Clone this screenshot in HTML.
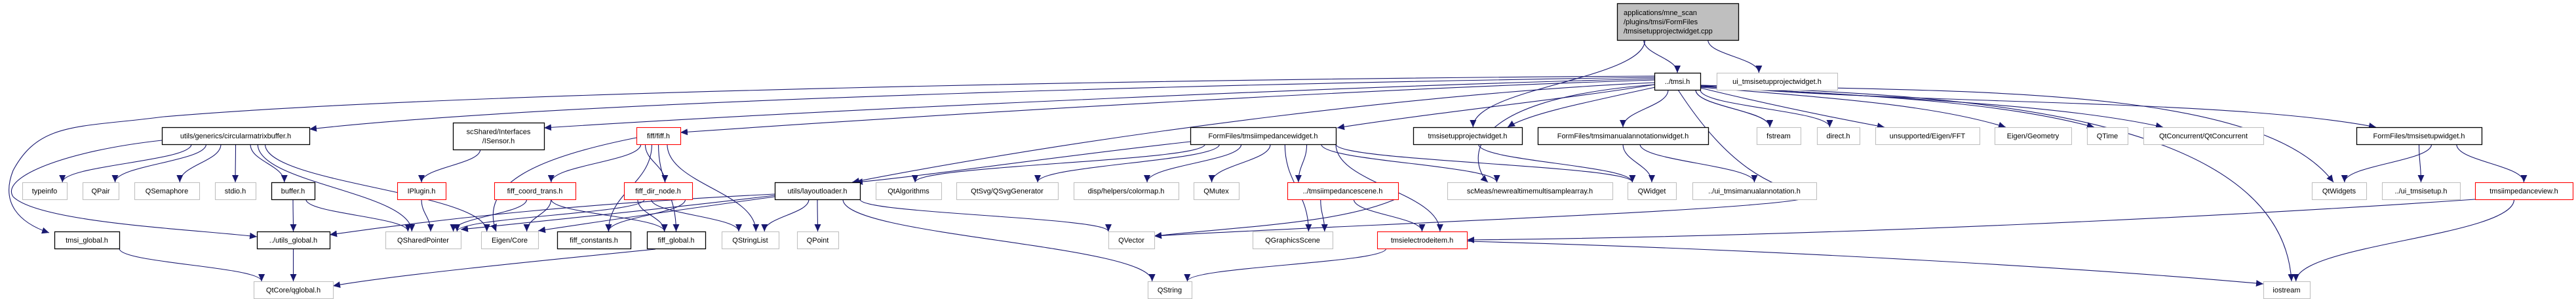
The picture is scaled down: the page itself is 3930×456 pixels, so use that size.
<!DOCTYPE html>
<html><head><meta charset="utf-8">
<style>
html,body{margin:0;padding:0;background:#fff;width:3930px;height:456px;overflow:hidden}
svg text{font-family:"Liberation Sans",Helvetica,Arial,sans-serif;font-size:11px;fill:#000}
</style></head>
<body>
<svg id="g" xmlns="http://www.w3.org/2000/svg" width="3930" height="456" viewBox="0 0 3930 456">
<defs>
<marker id="a" markerUnits="userSpaceOnUse" markerWidth="12" markerHeight="10" refX="11" refY="5" orient="auto">
<path d="M0,0 L11,5 L0,10 z" fill="#191970"/>
</marker>
</defs>
<g id="edges" fill="none" stroke="#191970" stroke-width="1.1"></g>
<g id="nodes"></g>
</svg>
<script>
var R={1:111,2:194,3:278,4:353,5:429};
var N={
top:[2467,5,2652,61,'F',["applications/mne_scan","/plugins/tmsi/FormFiles","/tmsisetupprojectwidget.cpp"]],
tmsi:[2524,R[1],2594,0,'B',"../tmsi.h"],
uispw:[2619,R[1],2803,0,'G',"ui_tmsisetupprojectwidget.h"],
circ:[247,R[2],472,0,'B',"utils/generics/circularmatrixbuffer.h"],
isensor:[691,187,830,228,'B',["scShared/Interfaces","/ISensor.h"]],
fiff:[971,R[2],1038,0,'R',"fiff/fiff.h"],
impw:[1816,R[2],2038,0,'B',"FormFiles/tmsiimpedancewidget.h"],
spw:[2156,R[2],2322,0,'B',"tmsisetupprojectwidget.h"],
man:[2346,R[2],2606,0,'B',"FormFiles/tmsimanualannotationwidget.h"],
fstream:[2680,R[2],2747,0,'G',"fstream"],
direct:[2772,R[2],2837,0,'G',"direct.h"],
fft:[2861,R[2],3020,0,'G',"unsupported/Eigen/FFT"],
geom:[3043,R[2],3160,0,'G',"Eigen/Geometry"],
qtime:[3184,R[2],3246,0,'G',"QTime"],
qconc:[3270,R[2],3453,0,'G',"QtConcurrent/QtConcurrent"],
sw:[3595,R[2],3786,0,'B',"FormFiles/tmsisetupwidget.h"],
typeinfo:[34,R[3],102,0,'G',"typeinfo"],
qpair:[126,R[3],181,0,'G',"QPair"],
qsem:[205,R[3],304,0,'G',"QSemaphore"],
stdio:[328,R[3],390,0,'G',"stdio.h"],
buffer:[414,R[3],480,0,'B',"buffer.h"],
iplugin:[606,R[3],680,0,'R',"IPlugin.h"],
coord:[754,R[3],878,0,'R',"fiff_coord_trans.h"],
dirnode:[952,R[3],1056,0,'R',"fiff_dir_node.h"],
layout:[1182,R[3],1312,0,'B',"utils/layoutloader.h"],
qalg:[1336,R[3],1436,0,'G',"QtAlgorithms"],
qsvg:[1459,R[3],1614,0,'G',"QtSvg/QSvgGenerator"],
cmap:[1638,R[3],1798,0,'G',"disp/helpers/colormap.h"],
qmutex:[1821,R[3],1890,0,'G',"QMutex"],
scene:[1964,R[3],2133,0,'R',"../tmsiimpedancescene.h"],
scmeas:[2208,R[3],2460,0,'G',"scMeas/newrealtimemultisamplearray.h"],
qwidget:[2483,R[3],2557,0,'G',"QWidget"],
uiman:[2582,R[3],2771,0,'G',"../ui_tmsimanualannotation.h"],
qtwidgets:[3527,R[3],3610,0,'G',"QtWidgets"],
uisetup:[3634,R[3],3753,0,'G',"../ui_tmsisetup.h"],
impview:[3776,R[3],3925,0,'R',"tmsiimpedanceview.h"],
tglobal:[83,R[4],182,0,'B',"tmsi_global.h"],
uglobal:[392,R[4],503,0,'B',"../utils_global.h"],
qsp:[588,R[4],703,0,'G',"QSharedPointer"],
ecore:[734,R[4],821,0,'G',"Eigen/Core"],
fconst:[850,R[4],962,0,'B',"fiff_constants.h"],
fglobal:[987,R[4],1076,0,'B',"fiff_global.h"],
qsl:[1101,R[4],1188,0,'G',"QStringList"],
qpoint:[1216,R[4],1279,0,'G',"QPoint"],
qvector:[1691,R[4],1761,0,'G',"QVector"],
qgs:[1911,R[4],2033,0,'G',"QGraphicsScene"],
elec:[2101,R[4],2238,0,'R',"tmsielectrodeitem.h"],
qglobal:[387,R[5],508,0,'G',"QtCore/qglobal.h"],
qstring:[1751,R[5],1818,0,'G',"QString"],
iostream:[3453,R[5],3524,0,'G',"iostream"]
};
for(var k in N){var n=N[k];if(!n[3])n[3]=n[1]+26;}
var ns="http://www.w3.org/2000/svg";
function el(t,a,p){var e=document.createElementNS(ns,t);for(var q in a)e.setAttribute(q,a[q]);p.appendChild(e);return e;}
var ng=document.getElementById('nodes'),eg=document.getElementById('edges');
for(var k in N){var n=N[k];var st=n[4];
 var fill=st=='F'?'#bfbfbf':'#fff',str=st=='G'?'#c0c0c0':(st=='R'?'#ff0000':'#000');
 el('rect',{x:n[0]+0.5,y:n[1]+0.5,width:n[2]-n[0],height:n[3]-n[1],fill:fill,stroke:str,'stroke-width':st=='B'||st=='F'?1.3:1.1},ng);
 if(Array.isArray(n[5])){var L=n[5],h=n[3]-n[1],lh=14,y0=n[1]+h/2-(L.length-1)*lh/2+4;
  for(var i=0;i<L.length;i++){var t=el('text',st=='F'?{x:n[0]+10,y:y0+i*lh}:{x:(n[0]+n[2])/2,y:y0+i*lh,'text-anchor':'middle'},ng);t.textContent=L[i];}
 } else {var t=el('text',{x:(n[0]+n[2])/2,y:(n[1]+n[3])/2+4,'text-anchor':'middle'},ng);t.textContent=n[5];}
}
// edge: [from,to,fx(0..1 along bottom),opt]
function E(f,t,fx,tx){var a=N[f],b=N[t];fx=fx==null?0.5:fx;tx=tx==null?0.5:tx;
 var sx=a[0]+(a[2]-a[0])*fx,sy=a[3],ex=b[0]+(b[2]-b[0])*tx,ey=b[1];
 var k=(ey-sy)*0.45;
 el('path',{d:'M'+sx+','+sy+' C'+sx+','+(sy+k)+' '+ex+','+(ey-k)+' '+ex+','+ey,'marker-end':'url(#a)'},eg);}
function P(d){el('path',{d:d,'marker-end':'url(#a)'},eg);}
E('top','tmsi',0.22,0.5);E('top','uispw',0.75,0.35);E('top','spw',0.23,0.55);
// tmsi long left edges
P('M2524,118 C2000,125 900,150 472,197');
P('M2524,120 C2100,130 1300,165 830,195');
P('M2524,122 C2100,135 1500,170 1038,202');
P('M2524,116 C1800,120 700,140 250,178 C120,195 60,185 20,260 C0,310 30,340 75,355');
P('M2524,126 C2200,140 1700,200 1300,278');
P('M2530,128 C2400,150 2200,170 2040,195');
P('M2530,132 C2400,160 2330,175 2300,194');
E('tmsi','man',0.3,0.5);E('tmsi','fstream',0.9,0.3);E('tmsi','direct',1,0.3);
P('M2594,134 C2700,160 2800,180 2875,194');
P('M2594,133 C2800,150 2950,160 3060,194');
P('M2594,132 C2850,145 3050,155 3195,194');
P('M2594,131 C2900,150 3150,160 3300,194');
P('M2594,130 C2900,160 3400,150 3625,194');
P('M2594,130 C3000,140 3450,130 3560,278');
P('M2594,131 C2900,145 3480,150 3496,429');
P('M2540,128 C2200,150 2250,260 2270,278');
P('M2560,137 C2640,260 2700,280 2760,300 C2740,320 2000,345 1761,360');
// circ
E('circ','typeinfo',0.2,0.9);E('circ','qpair',0.3,0.9);E('circ','qsem',0.4,0.7);E('circ','stdio',0.5,0.5);E('circ','buffer',0.6,0.3);
E('circ','qsp',0.65,0.35);E('circ','ecore',0.7,0.1);
P('M247,214 C100,230 0,270 20,300 C60,340 300,350 392,361');
E('buffer','uglobal',0.5,0.5);E('buffer','qsp',0.8,0.3);
E('isensor','iplugin',0.3,0.5);E('iplugin','qsp',0.5,0.6);
P('M971,210 C820,240 730,280 757,353');
E('fiff','coord',0.1,0.7);E('fiff','dirnode',0.2,0.6);E('fiff','fconst',0.35,0.7);E('fiff','fglobal',0.5,0.5);E('fiff','qsl',0.7,0.6);
E('coord','qsp',0.4,0.9);E('coord','ecore',0.7,0.8);E('coord','fglobal',0.7,0.3);
E('dirnode','qsp',0.3,0.95);E('dirnode','fglobal',0.2,0.3);E('dirnode','qsl',0.4,0.3);E('dirnode','fconst',0.9,0.7);
P('M1182,296 C900,310 700,330 503,358');P('M1182,298 C1000,320 800,340 703,350');P('M1182,300 C1000,325 900,340 821,352');
E('layout','qsl',0.4,0.75);E('layout','qpoint',0.5,0.5);E('layout','qvector',1,0);E('layout','qstring',0.8,0.1);
E('tmsi','fstream',0.9,0.3);
P('M1816,216 C1600,240 1400,270 1305,278');
E('impw','qalg',0.1,0.6);E('impw','qsvg',0.2,0.8);E('impw','cmap',0.35,0.7);E('impw','qmutex',0.55,0.4);
E('impw','qgs',0.65,0.7);E('impw','scene',0.8,0.1);E('impw','elec',1,0.7);E('impw','scmeas',0.9,0.3);E('impw','qwidget',1,0.1);
E('scene','qgs',0.3,0.9);E('scene','elec',0.6,0.5);
P('M2133,302 C2050,340 1900,345 1761,360');
E('elec','qstring',0.1,0.9);
P('M2238,368 C2700,380 3200,410 3453,433');
E('spw','qwidget',0.6,0.1);E('man','qwidget',0.5,0.5);E('man','uiman',0.6,0.5);
E('sw','qtwidgets',0.6,0.6);E('sw','uisetup',0.5,0.5);E('sw','impview',0.8,0.5);
P('M3776,304 C3400,330 2800,360 2238,366');E('impview','iostream',0.4,0.7);
E('tglobal','qglobal',1,0.1);E('uglobal','qglobal',0.5,0.5);P('M1000,380 C800,400 600,420 508,436');
</script>
</body></html>
